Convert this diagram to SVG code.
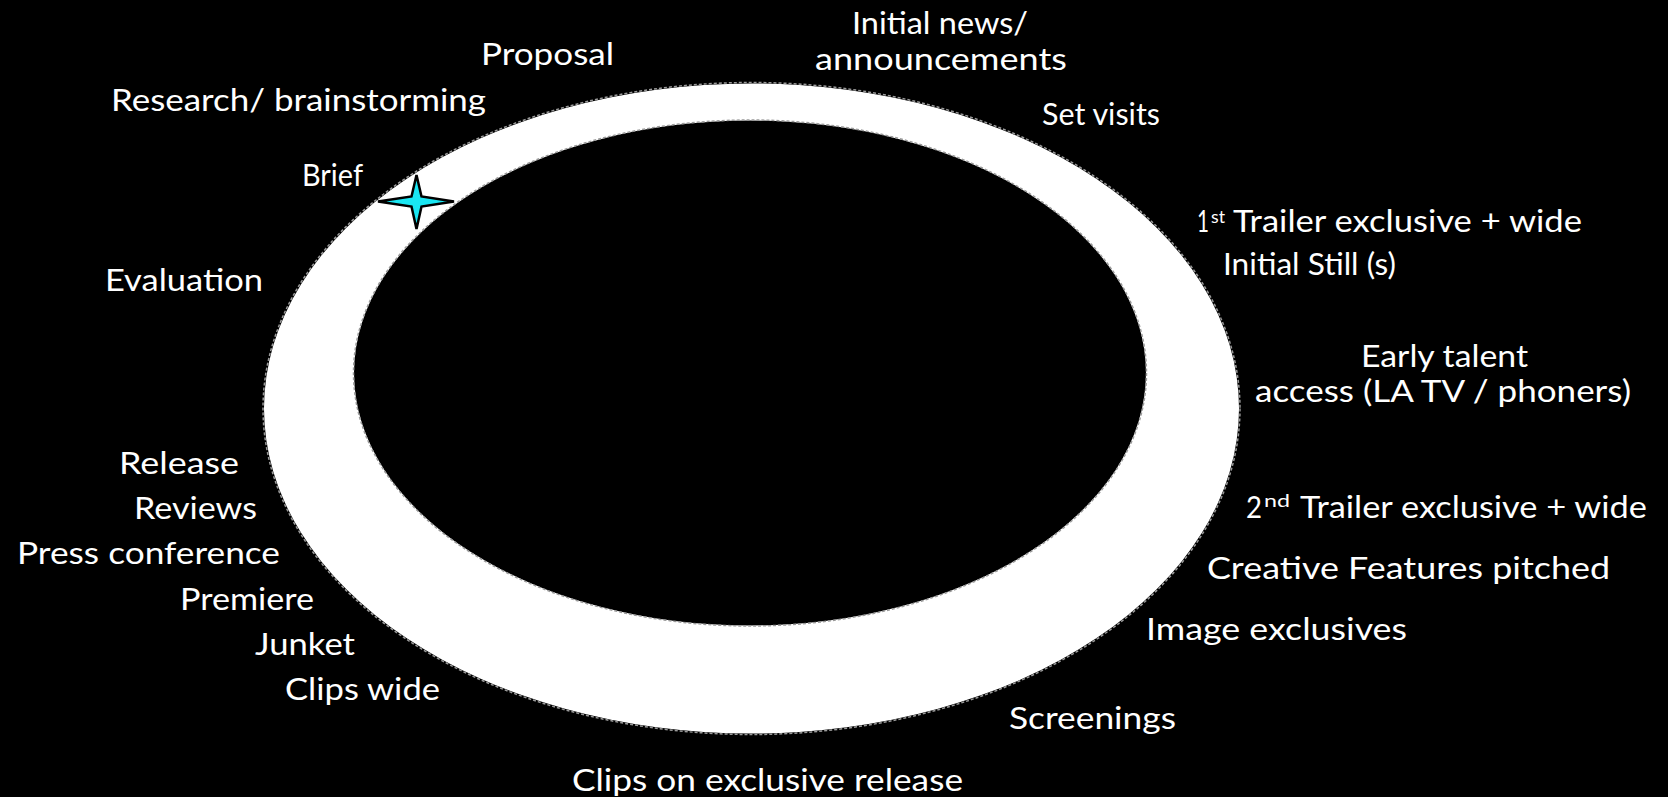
<svg xmlns="http://www.w3.org/2000/svg" width="1668" height="797" viewBox="0 0 1668 797">
<style>
  text { font-family: "Lato", "DejaVu Sans", "Liberation Sans", sans-serif; font-size: 30px; fill: #ffffff; }
  .sup { font-size: 18px; }
  .edge { fill: none; stroke: #9a9a9a; stroke-width: 1.5; stroke-dasharray: 3 2; }
</style>
<rect x="0" y="0" width="1668" height="797" fill="#000000"/>
<g id="ring">
  <ellipse cx="751.5" cy="408.5" rx="487.5" ry="325" fill="#ffffff"/>
  <ellipse class="edge" cx="751.5" cy="408.5" rx="488.5" ry="326"/>
  <ellipse cx="750" cy="373" rx="396" ry="252.5" fill="#000000"/>
  <ellipse class="edge" cx="750" cy="373" rx="396.5" ry="253"/>
</g>
<g id="star">
  <path d="M416.5,175 L421.5,196.5 L454,201.5 L421.5,206.5 L416.5,229 L411.5,206.5 L378,201.5 L411.5,196.5 Z" fill="#19e6f2" stroke="#000000" stroke-width="2.5" stroke-linejoin="miter"/>
</g>
<g id="connectors"/>
<g id="label-initial-news"><text x="852" y="34" textLength="176" lengthAdjust="spacingAndGlyphs">Initial news/</text><text x="815" y="70" textLength="252" lengthAdjust="spacingAndGlyphs">announcements</text></g>
<g id="label-proposal"><text x="481" y="65" textLength="133" lengthAdjust="spacingAndGlyphs">Proposal</text></g>
<g id="label-research"><text x="111" y="111" textLength="375" lengthAdjust="spacingAndGlyphs">Research/ brainstorming</text></g>
<g id="label-set-visits"><text x="1042" y="125" textLength="118" lengthAdjust="spacingAndGlyphs">Set visits</text></g>
<g id="label-brief"><text x="302" y="186" textLength="61" lengthAdjust="spacingAndGlyphs">Brief</text></g>
<g id="label-trailer1"><text x="1197" y="232" textLength="12" lengthAdjust="spacingAndGlyphs">1</text><text class="sup" x="1211" y="223" textLength="14" lengthAdjust="spacingAndGlyphs">st</text><text x="1233" y="232" textLength="349" lengthAdjust="spacingAndGlyphs">Trailer exclusive + wide</text></g>
<g id="label-initial-still"><text x="1223" y="275" textLength="173" lengthAdjust="spacingAndGlyphs">Initial Still (s)</text></g>
<g id="label-evaluation"><text x="105" y="291" textLength="158" lengthAdjust="spacingAndGlyphs">Evaluation</text></g>
<g id="label-early-talent"><text x="1361" y="367" textLength="167" lengthAdjust="spacingAndGlyphs">Early talent</text><text x="1255" y="402" textLength="376" lengthAdjust="spacingAndGlyphs">access (LA TV / phoners)</text></g>
<g id="label-release"><text x="119" y="474" textLength="120" lengthAdjust="spacingAndGlyphs">Release</text></g>
<g id="label-reviews"><text x="134" y="519" textLength="123" lengthAdjust="spacingAndGlyphs">Reviews</text></g>
<g id="label-trailer2"><text x="1246" y="518" textLength="16" lengthAdjust="spacingAndGlyphs">2</text><text class="sup" x="1264" y="507" textLength="26" lengthAdjust="spacingAndGlyphs">nd</text><text x="1300" y="518" textLength="347" lengthAdjust="spacingAndGlyphs">Trailer exclusive + wide</text></g>
<g id="label-press-conference"><text x="17" y="564" textLength="263" lengthAdjust="spacingAndGlyphs">Press conference</text></g>
<g id="label-creative"><text x="1207" y="579" textLength="403" lengthAdjust="spacingAndGlyphs">Creative Features pitched</text></g>
<g id="label-premiere"><text x="180" y="610" textLength="134" lengthAdjust="spacingAndGlyphs">Premiere</text></g>
<g id="label-image-exclusives"><text x="1146" y="640" textLength="261" lengthAdjust="spacingAndGlyphs">Image exclusives</text></g>
<g id="label-junket"><text x="255" y="655" textLength="100" lengthAdjust="spacingAndGlyphs">Junket</text></g>
<g id="label-clips-wide"><text x="285" y="700" textLength="155" lengthAdjust="spacingAndGlyphs">Clips wide</text></g>
<g id="label-screenings"><text x="1009" y="729" textLength="167" lengthAdjust="spacingAndGlyphs">Screenings</text></g>
<g id="label-clips-exclusive"><text x="572" y="791" textLength="391" lengthAdjust="spacingAndGlyphs">Clips on exclusive release</text></g>
</svg>
